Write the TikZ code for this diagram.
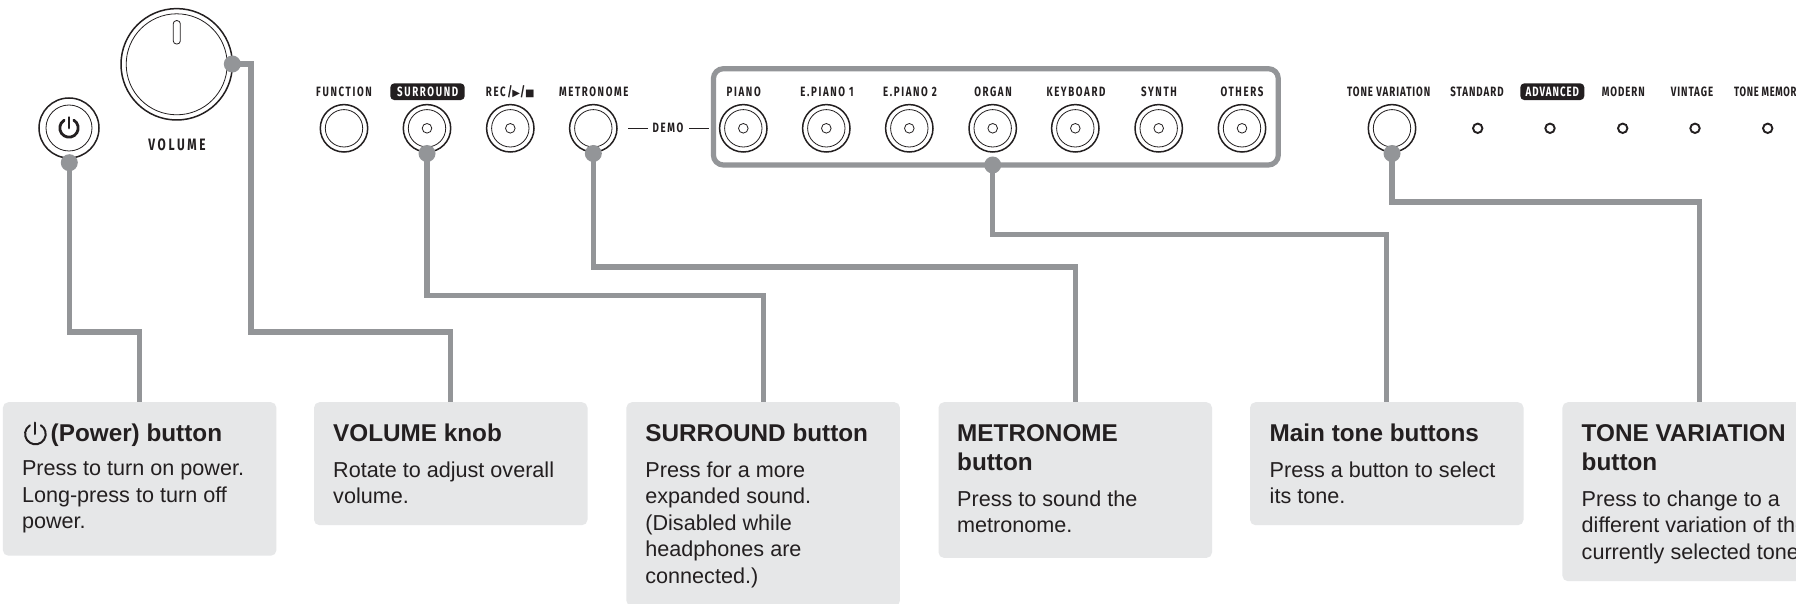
\documentclass[tikz,border=0pt]{standalone}
\usepackage{fontspec}
\setmainfont{Liberation Sans}
\newfontfamily\arial{Liberation Sans}
\newfontfamily\din[FakeStretch=0.72,LetterSpace=12]{Fira Sans}
\newfontfamily\dinwide[FakeStretch=0.72,LetterSpace=16]{Fira Sans}
\newfontfamily\dintight[FakeStretch=0.72,LetterSpace=7]{Fira Sans}
\newfontfamily\dinnarrow[FakeStretch=0.70,LetterSpace=5]{Fira Sans}
\newfontfamily\dejavu{DejaVu Sans}
\definecolor{conn}{HTML}{939598}
\definecolor{boxfill}{HTML}{E6E7E8}
\definecolor{ink}{HTML}{231F20}
\tikzset{
  outerbtn/.style={circle,draw=ink,line width=1.5pt,fill=white,inner sep=0pt,minimum size=47.4pt},
  innerbtn/.style={circle,draw=ink,line width=0.8pt,inner sep=0pt,minimum size=37.4pt},
  markbtn/.style={circle,draw=ink,line width=0.8pt,inner sep=0pt,minimum size=9.6pt},
  led/.style={circle,draw=ink,line width=1.9pt,inner sep=0pt,minimum size=9.4pt},
  dotmark/.style={circle,fill=conn,inner sep=0pt,minimum size=17pt},
  connline/.style={draw=conn,line width=5.2pt,line join=miter},
  infobox/.style={fill=boxfill,rounded corners=5.5pt,inner sep=0pt,minimum width=273.5pt,anchor=north west},
  info/.style={anchor=north west,inner sep=0pt,text width=300pt,align=flush left,text=ink,font=\arial},
  lbl/.style={inner sep=0pt,text=ink,font=\din\bfseries\fontsize{13.5}{15}\selectfont},
  lbt/.style={inner sep=0pt,text=ink,font=\dintight\bfseries\fontsize{13.5}{15}\selectfont},
  lblw/.style={inner sep=0pt,text=white,font=\din\bfseries\fontsize{13.5}{15}\selectfont},
  pill/.style={fill=ink,rounded corners=4pt,inner sep=0pt,minimum height=16.7pt},
}
\newcommand{\ttl}{\bfseries\fontsize{24.3}{29}\selectfont\strut}
\newcommand{\bdyfont}{\fontsize{21.6}{26.5}\selectfont\strut}
\newcommand{\bdy}{\vspace{7pt}\bdyfont}
\newcommand{\btnplain}[3]{\node[outerbtn] (#1) at (#2,#3) {};\node[innerbtn] (#1i) at (#1) {};}
\newcommand{\btnmark}[3]{\btnplain{#1}{#2}{#3}\node[markbtn] (#1m) at (#1) {};}
\newcommand{\pwrsym}[5]{\begin{scope}[shift={(#1,#2)},y=1pt]
  \draw[ink,line width=#4pt,line cap=round] (58:#3) arc[start angle=58,end angle=-238,radius=#3];
  \draw[ink,line width=#4pt,line cap=round] (0,0) -- (0,#5);
  \end{scope}}
\begin{document}
\begin{tikzpicture}[x=1pt,y=-1pt]
\useasboundingbox (0,0) rectangle (1796,604);
\clip (0,0) rectangle (1796,604);
\fill[white] (0,0) rectangle (1796,604);

% info boxes
\node[infobox,minimum height=153.5pt] (bP) at (2.7,402) {};
\node[infobox,minimum height=123pt] (bV) at (313.8,402) {};
\node[infobox,minimum height=204pt] (bS) at (626.2,402) {};
\node[infobox,minimum height=155.7pt] (bM) at (938.3,402) {};
\node[infobox,minimum height=123pt] (bT) at (1249.8,402) {};
\node[infobox,minimum height=179pt] (bQ) at (1562.2,402) {};

\node[info] (tP) at (50.5,421.4) {{\ttl (Power) button\par}};
\node[info] (tPb) at (21.8,457) {{\bdyfont Press to turn on power.\\\strut Long-press to turn off\\\strut power.\par}};
\node[info] (tV) at (333,421.4) {{\ttl VOLUME knob\par}{\bdy Rotate to adjust overall\\\strut volume.\par}};
\node[info] (tS) at (645.2,421.4) {{\ttl SURROUND button\par}{\bdy Press for a more\\\strut expanded sound.\\\strut (Disabled while\\\strut headphones are\\\strut connected.)\par}};
\node[info] (tM) at (957,421.4) {{\ttl METRONOME\\\strut button\par}{\bdy Press to sound the\\\strut metronome.\par}};
\node[info] (tT) at (1269.5,421.4) {{\ttl Main tone buttons\par}{\bdy Press a button to select\\\strut its tone.\par}};
\node[info] (tQ) at (1581.5,421.4) {{\ttl TONE VARIATION\\\strut button\par}{\bdy Press to change to a\\\strut different variation of the\\\strut currently selected tone.\par}};
\pwrsym{35.4}{434}{10.3}{2}{11.5}

% main tone frame
\node[draw=conn,line width=5.2pt,rounded corners=10pt,inner sep=0pt,minimum width=564.9pt,minimum height=96.3pt] (frame) at (995.85,116.85) {};

% knob
\node[outerbtn,minimum size=111.4pt] (knob) at (176.7,64.3) {};
\node[innerbtn,minimum size=101pt] (knobi) at (knob) {};
\node[draw=ink,line width=0.8pt,rounded corners=3pt,inner sep=0pt,minimum width=7pt,minimum height=23.3pt] (knobm) at (176.8,32.3) {};
\node[lbl,font=\dinwide\bfseries\fontsize{16.5}{18}\selectfont] (knobl) at (177,145) {VOLUME};

% power button
\node[outerbtn,minimum size=60pt] (pwr) at (69,128) {};
\node[innerbtn,minimum size=46pt] (pwri) at (pwr) {};
\pwrsym{69}{128}{9.2}{2.8}{10.5}

% buttons
\btnplain{fn}{344}{128.3}
\btnmark{sur}{427}{128.3}
\btnmark{rec}{510.3}{128.3}
\btnplain{met}{593.3}{128.3}
\btnmark{pia}{743.3}{128.3}
\btnmark{ep1}{826.3}{128.3}
\btnmark{ep2}{909.3}{128.3}
\btnmark{org}{992.7}{128.3}
\btnmark{key}{1075.3}{128.3}
\btnmark{syn}{1158.7}{128.3}
\btnmark{oth}{1242}{128.3}
\btnplain{tv}{1392}{128.3}

% leds
\node[led] (l1) at (1477.7,128.3) {};
\node[led] (l2) at (1550,128.3) {};
\node[led] (l3) at (1622.7,128.3) {};
\node[led] (l4) at (1695,128.3) {};
\node[led] (l5) at (1767.7,128.3) {};

% labels
\node[lbl] (lfn) at (344,91.7) {FUNCTION};
\node[pill,minimum width=74.4pt] (psur) at (427.5,91.7) {};
\node[lblw] (lsur) at (427.7,91.7) {SURROUND};
\node[lbl] (lrec) at (510.3,91.7) {REC/{\dejavu\fontsize{10}{12}\selectfont ▶}/{\dejavu\fontsize{10}{12}\selectfont ■}};
\node[lbl] (lmet) at (593.7,91.7) {METRONOME};
\node[lbl] (lpia) at (743.7,91.7) {PIANO};
\node[lbl] (lep1) at (827,91.7) {E.PIANO 1};
\node[lbl] (lep2) at (910,91.7) {E.PIANO 2};
\node[lbl] (lorg) at (993,91.7) {ORGAN};
\node[lbl] (lkey) at (1076,91.7) {KEYBOARD};
\node[lbl] (lsyn) at (1159,91.7) {SYNTH};
\node[lbl] (loth) at (1242,91.7) {OTHERS};
\node[lbt] (ltv) at (1388.7,91.7) {TONE VARIATION};
\node[lbt] (lst) at (1477,91.7) {STANDARD};
\node[pill,minimum width=64pt] (padv) at (1552.3,91.7) {};
\node[lblw,font=\dintight\bfseries\fontsize{13.5}{15}\selectfont] (ladv) at (1552.3,91.7) {ADVANCED};
\node[lbt] (lmod) at (1623.3,91.7) {MODERN};
\node[lbt] (lvin) at (1692,91.7) {VINTAGE};
\node[lbt,anchor=west,font=\dinnarrow\bfseries\fontsize{13.5}{15}\selectfont] (ltm) at (1734,91.7) {TONE MEMORY};

% demo
\node[lbl] (demo) at (668,128.3) {DEMO};
\coordinate (da) at (628.3,128.3);
\coordinate (db) at (709.3,128.3);
\draw[ink,line width=1.5pt] (da) -- (648.3,128.3);
\draw[ink,line width=1.5pt] (689.3,128.3) -- (db);

% connector dots
\node[dotmark] (dP) at (69.3,162.7) {};
\node[dotmark] (dV) at (232.3,64) {};
\node[dotmark] (dS) at (427,153.5) {};
\node[dotmark] (dM) at (593.3,153.5) {};
\node[dotmark] (dT) at (992.7,165) {};
\node[dotmark] (dQ) at (1392,153.5) {};

% connectors
\draw[connline] (dP.center) -- (dP.center |- 0,332) -- (bP.north |- 0,332) -- (bP.north);
\draw[connline] (dV.center) -- (251,64) -- (251,332) -- (bV.north |- 0,332) -- (bV.north);
\draw[connline] (dS.center) -- (dS.center |- 0,295.5) -- (bS.north |- 0,295.5) -- (bS.north);
\draw[connline] (dM.center) -- (dM.center |- 0,267) -- (bM.north |- 0,267) -- (bM.north);
\draw[connline] (dT.center) -- (dT.center |- 0,234.8) -- (bT.north |- 0,234.8) -- (bT.north);
\draw[connline] (dQ.center) -- (dQ.center |- 0,202) -- (bQ.north |- 0,202) -- (bQ.north);
\end{tikzpicture}
\end{document}
